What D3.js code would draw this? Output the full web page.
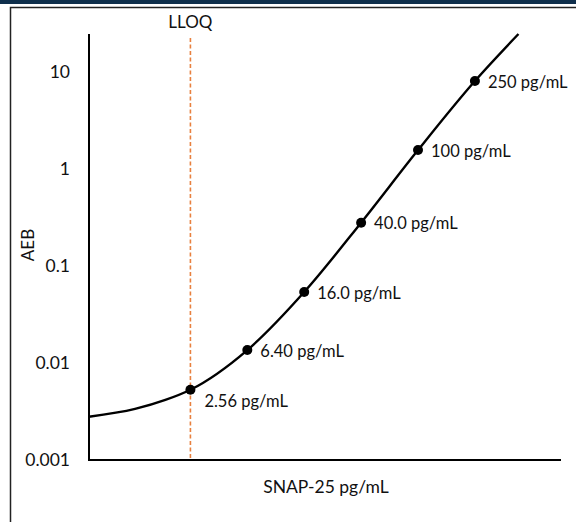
<!DOCTYPE html>
<html>
<head>
<meta charset="utf-8">
<script src="https://cdn.jsdelivr.net/npm/d3@7"></script>
<style>
body { margin: 0; background: #fff; }
text { font-family: Lato, "Open Sans", sans-serif; fill: #111; }
</style>
</head>
<body>
<div id="chart"></div>
<script>
var width = 576,
height = 522;

// calibrator levels (pg/mL) and AEB
var conc = [2.56, 6.40, 16.0, 40.0, 100, 250];
var aeb = [0.0053, 0.0136, 0.054, 0.28, 1.57, 8.1];
var labels = ["2.56 pg/mL", "6.40 pg/mL", "16.0 pg/mL", "40.0 pg/mL", "100 pg/mL", "250 pg/mL"];

// fitted curve, points
var curveX = [0.5, 1.05, 1.71, 2.56, 6.40, 16.0, 40.0, 100, 250, 504];
var curveY = [0.00279, 0.00336, 0.00416, 0.0053, 0.0136, 0.054, 0.28, 1.57, 8.1, 24.7];

var yTicks = [0.001, 0.01, 0.1, 1, 10];
var lloq = 2.56;

var svg = d3.select("#chart").append("svg")
.attr("width", width)
.attr("height", height)

// dark header strip and the frame
svg.append("rect").attr("x", 0).attr("y", 0).attr("width", width).attr("height", 4).attr("fill", "#0f2f4c")
svg.append("path")
.attr("d", "M10.5," + height + "V7.5H" + width)
.attr("fill", "none")
.attr("stroke", "#222")
.attr("stroke-width", 1.5)

var x = d3.scaleLog().domain([0.5, 1000]).range([89, 561]);
var y = d3.scaleLog().domain([0.001, 24.7]).range([460, 34]);

// axes
svg.append("line")
.attr("x1", 89).attr("x2", 89).attr("y1", 34).attr("y2", 461)
.attr("stroke", "#000").attr("stroke-width", 2)
svg.append("line")
.attr("x1", 88).attr("x2", 561).attr("y1", 460).attr("y2", 460)
.attr("stroke", "#000").attr("stroke-width", 2)

svg.selectAll(".ytick")
.data(yTicks)
.join("text")
.attr("class", "ytick")
.attr("x", 70)
.attr("y", function (d) { return y(d); })
.attr("dy", "0.35em")
.attr("text-anchor", "end")
.style("font-size", "17.5px")
.text(function (d) { return d3.format("~g")(d); })

// LLOQ
svg.append("line")
.attr("x1", x(lloq)).attr("x2", x(lloq))
.attr("y1", 38).attr("y2", 460)
.attr("stroke", "#e8803f")
.attr("stroke-width", 1.6)
.attr("stroke-dasharray", "4,2.5")
svg.append("text")
.attr("x", x(lloq)).attr("y", 28)
.attr("text-anchor", "middle")
.style("font-size", "17px")
.text("LLOQ")

// curve
var pts = curveX.map(function (d, i) { return [d, curveY[i]]; });
var line = d3.line()
.x(function (d) { return x(d[0]); })
.y(function (d) { return y(d[1]); })
.curve(d3.curveMonotoneX);
svg.append("path")
.datum(pts)
.attr("d", line)
.attr("fill", "none")
.attr("stroke", "#000")
.attr("stroke-width", 2.4)

svg.selectAll(".pt")
.data(conc)
.join("circle")
.attr("class", "pt")
.attr("cx", function (d) { return x(d); })
.attr("cy", function (d, i) { return y(aeb[i]); })
.attr("r", 5)
.attr("fill", "#000")

svg.selectAll(".lab")
.data(conc)
.join("text")
.attr("class", "lab")
.attr("x", function (d, i) { return x(d) + (i == 0 ? 14 : 13); })
.attr("y", function (d, i) { return y(aeb[i]) + (i == 0 ? 11 : 1); })
.attr("dy", "0.35em")
.style("font-size", "16.5px")
.text(function (d, i) { return labels[i]; })

// axis titles
svg.append("text")
.attr("x", 326).attr("y", 493)
.attr("text-anchor", "middle")
.style("font-size", "17.5px")
.text("SNAP-25 pg/mL")
svg.append("text")
.attr("transform", "translate(34,245) rotate(-90)")
.attr("text-anchor", "middle")
.style("font-size", "17px")
.text("AEB")
</script>
</body>
</html>
